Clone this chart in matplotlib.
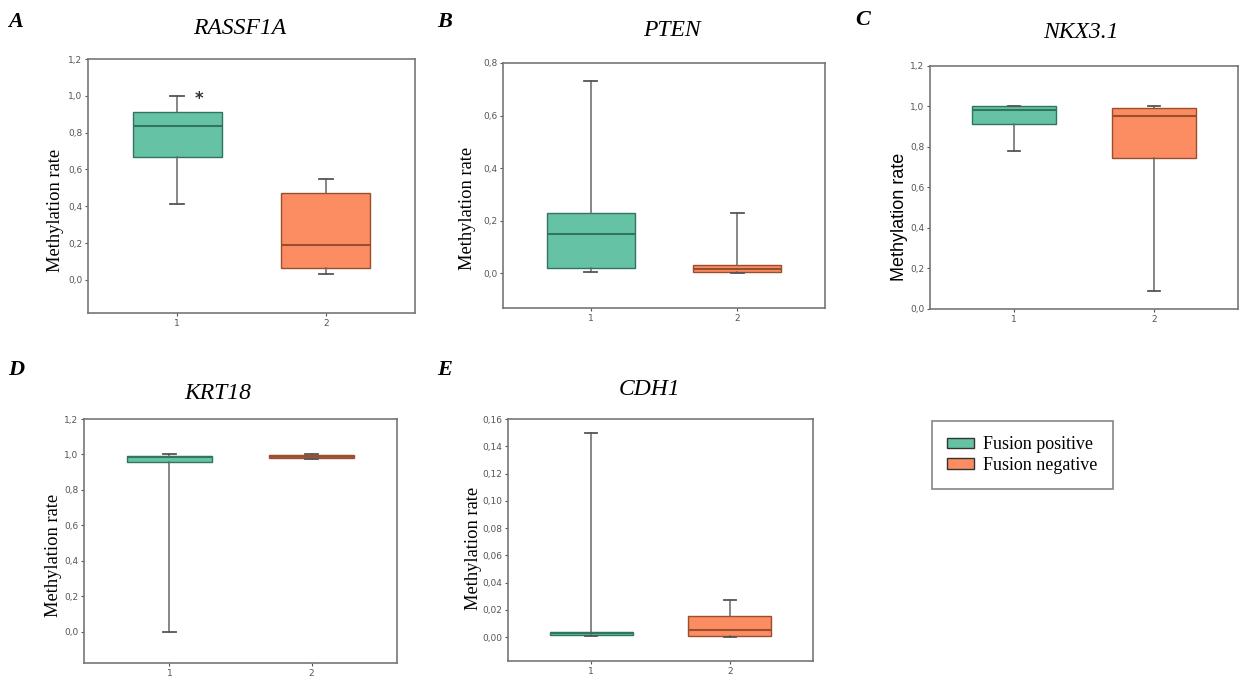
import matplotlib
matplotlib.use("Agg")
import matplotlib.pyplot as plt
from matplotlib.patches import Patch
from matplotlib.ticker import FuncFormatter, MultipleLocator

W, H = 1240, 679

# data (whislo, q1, med, q3, whishi)
genes = ["RASSF1A", "PTEN", "NKX3.1", "KRT18", "CDH1"]
letters = ["A", "B", "C", "D", "E"]
fusion_pos = [
    [0.41, 0.665, 0.835, 0.91, 1.0],
    [0.005, 0.02, 0.15, 0.23, 0.73],
    [0.78, 0.915, 0.985, 1.0, 1.0],
    [0.0, 0.955, 0.985, 0.99, 1.0],
    [0.001, 0.0015, 0.003, 0.004, 0.15],
]
fusion_neg = [
    [0.03, 0.065, 0.19, 0.47, 0.55],
    [0.0, 0.003, 0.015, 0.03, 0.23],
    [0.09, 0.745, 0.955, 0.995, 1.0],
    [0.975, 0.98, 0.99, 0.995, 1.0],
    [0.0, 0.0005, 0.0055, 0.0155, 0.0275],
]
group_ticks = [1, 2]
legend_labels = ["Fusion positive", "Fusion negative"]

# layout in pixels: axes (left, top, right, bottom), ylim, tick step, decimals
ax_px = [(88, 59, 415, 313), (503, 63, 825, 308), (930, 66, 1238, 309),
         (84, 419, 397, 663), (508, 419, 813, 661)]
ylims = [(-0.18, 1.2), (-0.133, 0.8), (0.0, 1.2), (-0.175, 1.2), (-0.0176, 0.16)]
ystep = [0.2, 0.2, 0.2, 0.2, 0.02]
ydec = [1, 1, 1, 1, 2]
title_px = [(240, 29), (672, 30), (1081, 32), (218, 393), (650, 390)]
letter_px = [(8, 22), (437, 22), (855, 20), (8, 370), (437, 370)]
ylab_px = [(55, 210), (468, 208), (900, 217), (53, 555), (473, 548)]

GREEN, ORANGE, BROWN = "#66c2a5", "#fc8d62", "#9a5a44"
GREEN_D, ORANGE_D = "#2f7560", "#9a4e2e"
SERIF = "Liberation Serif"


def fx(x):
    return x / W


def fy(y):
    return 1 - y / H


fig = plt.figure(figsize=(W / 100, H / 100), dpi=100)

for i, gene in enumerate(genes):
    l, t, r, b = ax_px[i]
    ax = fig.add_axes([fx(l), fy(b), (r - l) / W, (b - t) / H])
    stats = []
    for s in (fusion_pos[i], fusion_neg[i]):
        stats.append(dict(whislo=s[0], q1=s[1], med=s[2], q3=s[3], whishi=s[4], fliers=[]))
    bp = ax.bxp(stats, positions=group_ticks, widths=0.6, capwidths=0.09,
                patch_artist=True, showfliers=False,
                whiskerprops=dict(color="#666666", lw=1.1),
                capprops=dict(color="#555555", lw=1.3),
                medianprops=dict(lw=1.5))
    faces = [GREEN, BROWN if gene == "KRT18" else ORANGE]
    edges = [GREEN_D, ORANGE_D]
    for k, box in enumerate(bp["boxes"]):
        box.set_facecolor(faces[k])
        box.set_edgecolor(edges[k])
        box.set_linewidth(1.0)
        bp["medians"][k].set_color(edges[k])

    ax.set_xlim(0.4, 2.6)
    ax.set_ylim(*ylims[i])
    ax.yaxis.set_major_locator(MultipleLocator(ystep[i]))
    d = ydec[i]
    ax.yaxis.set_major_formatter(FuncFormatter(
        lambda v, p, d=d: ("%.*f" % (d, v)).replace(".", ",") if v > -1e-9 else ""))
    ax.set_xticks(group_ticks)
    ax.set_xticklabels([str(g) for g in group_ticks])
    ax.tick_params(labelsize=6.5, colors="#555555", length=2.5, width=0.8, pad=1.5)
    for sp in ax.spines.values():
        sp.set_color("#777777")
        sp.set_linewidth(1.2)

    tx, ty = title_px[i]
    fig.text(fx(tx), fy(ty), gene, ha="center", va="center", fontsize=17,
             style="italic", family=SERIF)
    lx, ly = letter_px[i]
    fig.text(fx(lx), fy(ly), letters[i], ha="left", va="center", fontsize=16,
             style="italic", weight="bold", family=SERIF)
    yx, yy = ylab_px[i]
    fam = "Liberation Sans" if gene == "NKX3.1" else SERIF
    fig.text(fx(yx), fy(yy), "Methylation rate", ha="center", va="center",
             rotation=90, fontsize=13 if gene == "NKX3.1" else 13.3, family=fam)

    if gene == "RASSF1A":
        ax.text(1.15, 0.985, "*", ha="center", va="center", fontsize=12,
                color="#333333", weight="bold")

handles = [Patch(facecolor=GREEN, edgecolor="#333333", lw=1.0),
           Patch(facecolor=ORANGE, edgecolor="#333333", lw=1.0)]
leg = fig.legend(handles, legend_labels, loc="upper left",
                 bbox_to_anchor=(fx(932), fy(421)), frameon=True, fancybox=False,
                 edgecolor="#666666", prop=dict(family=SERIF, size=13),
                 handlelength=1.45, handleheight=0.55, handletextpad=0.55,
                 labelspacing=0.2, borderpad=0.85, borderaxespad=0)
leg.get_frame().set_linewidth(1.2)

fig.savefig("out.png", dpi=100)
